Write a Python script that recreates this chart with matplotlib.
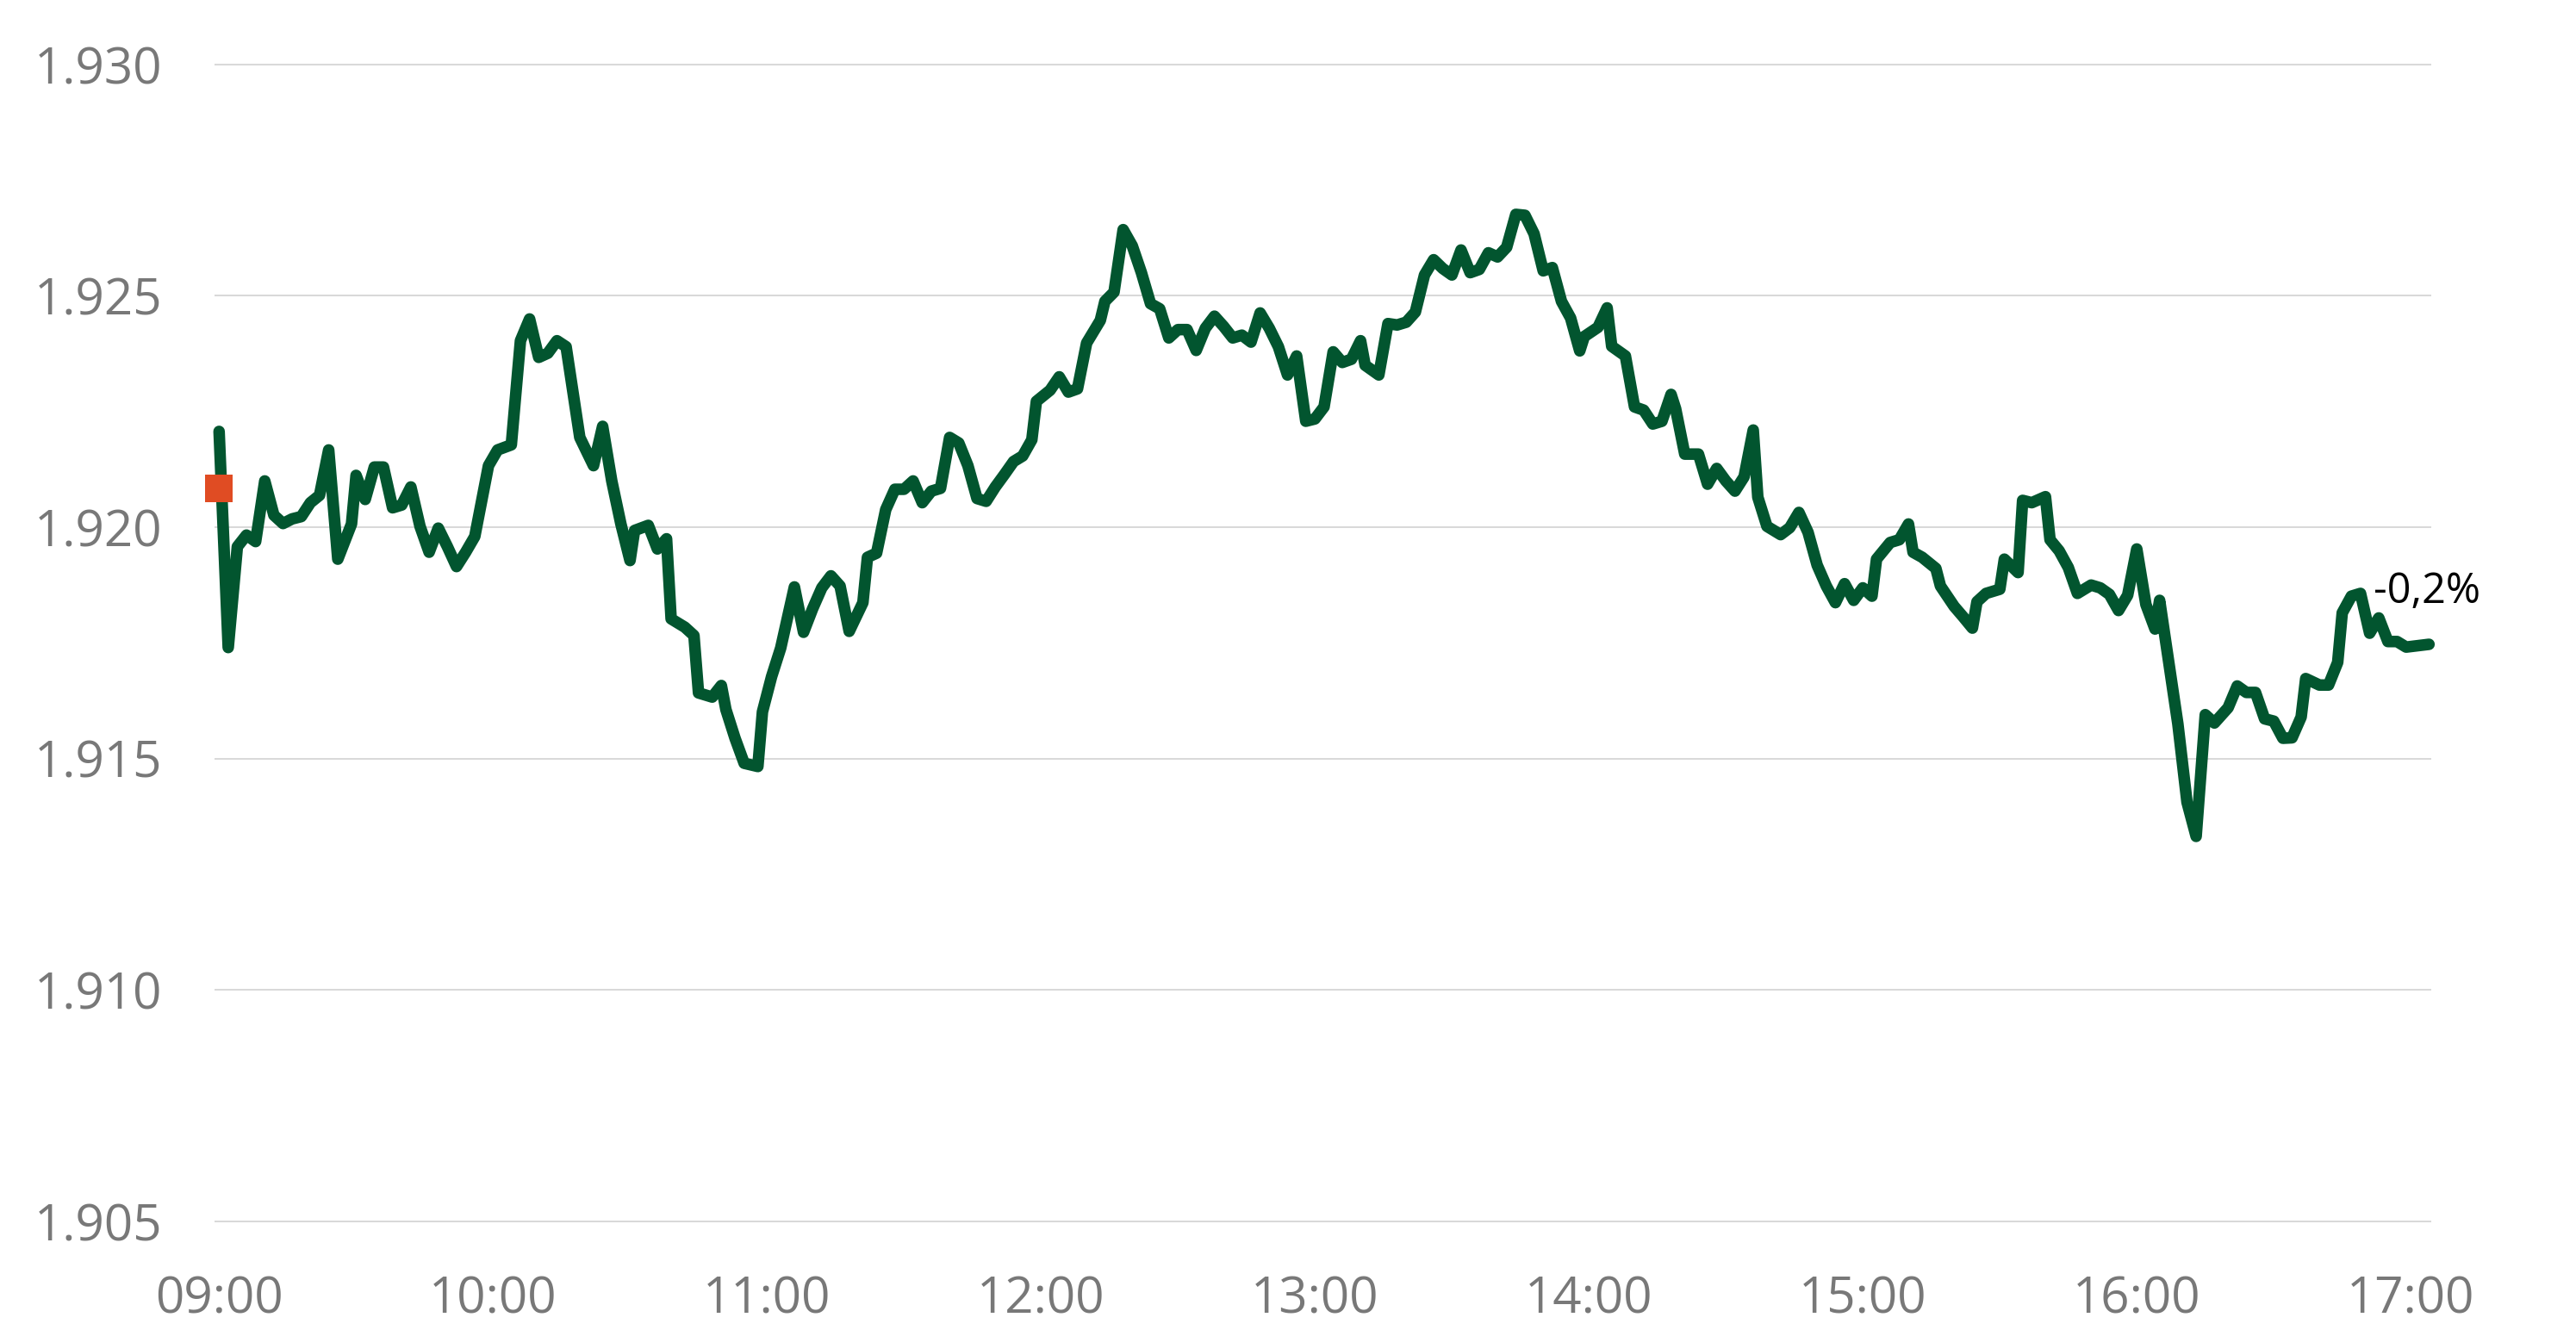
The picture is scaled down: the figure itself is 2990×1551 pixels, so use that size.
import matplotlib
matplotlib.use("Agg")
import matplotlib.pyplot as plt
import matplotlib.ticker as mticker

plt.rcParams["font.family"] = ["Open Sans", "DejaVu Sans"]

# intraday prices, minutes after 09:00
minutes = [
    0, 2, 4, 6, 8, 10, 12, 14, 16, 18, 20, 22, 24, 26, 29, 30, 32, 34, 36, 38,
    40, 42, 44, 46, 48, 50, 52, 54, 56, 59, 61, 64, 66, 68, 70, 72, 74, 76, 79, 82,
    84, 86, 88, 90, 91, 94, 96, 98, 99, 102, 104, 105, 108, 110, 111, 113, 115, 118, 119, 121,
    123, 126, 128, 130, 132, 134, 136, 138, 141, 142, 144, 146, 148, 150, 152, 154, 156, 158, 160, 162,
    164, 166, 168, 170, 172, 174, 176, 178, 179, 182, 184, 186, 188, 190, 193, 194, 196, 198, 200, 202,
    204, 206, 208, 210, 212, 214, 216, 218, 220, 222, 224, 226, 228, 230, 232, 234, 236, 238, 240, 242,
    244, 246, 248, 250, 251, 254, 256, 258, 260, 262, 264, 266, 268, 270, 272, 274, 276, 278, 280, 282,
    284, 286, 288, 290, 292, 294, 296, 298, 299, 302, 304, 305, 308, 310, 312, 314, 316, 318, 319, 321,
    324, 326, 328, 330, 332, 334, 336, 337, 339, 342, 344, 346, 348, 350, 352, 354, 356, 358, 360, 362,
    363, 366, 368, 370, 371, 373, 376, 377, 380, 382, 384, 385, 387, 390, 391, 394, 395, 397, 400, 401,
    403, 405, 407, 410, 412, 414, 416, 418, 420, 422, 424, 425, 429, 431, 433, 435, 437, 440, 442, 444,
    446, 448, 450, 452, 454, 456, 457, 460, 462, 464, 465, 467, 469, 471, 473, 475, 477, 479, 484,
]
prices = [
    1.92207, 1.91740, 1.91958, 1.91983, 1.91969, 1.92100, 1.92026, 1.92008, 1.92018, 1.92023,
    1.92053, 1.92069, 1.92167, 1.91931, 1.92007, 1.92112, 1.92060, 1.92130, 1.92130, 1.92042,
    1.92048, 1.92087, 1.92002, 1.91946, 1.91998, 1.91958, 1.91915, 1.91946, 1.91980, 1.92133,
    1.92167, 1.92178, 1.92403, 1.92450, 1.92367, 1.92376, 1.92403, 1.92390, 1.92194, 1.92133,
    1.92218, 1.92100, 1.92007, 1.91928, 1.91993, 1.92004, 1.91953, 1.91975, 1.91802, 1.91784,
    1.91766, 1.91642, 1.91633, 1.91658, 1.91606, 1.91544, 1.91490, 1.91483, 1.91601, 1.91677,
    1.91739, 1.91871, 1.91773, 1.91824, 1.91869, 1.91895, 1.91873, 1.91775, 1.91837, 1.91935,
    1.91944, 1.92038, 1.92082, 1.92082, 1.92100, 1.92053, 1.92078, 1.92084, 1.92194, 1.92182,
    1.92133, 1.92062, 1.92056, 1.92087, 1.92114, 1.92142, 1.92154, 1.92189, 1.92272, 1.92296,
    1.92325, 1.92292, 1.92299, 1.92398, 1.92447, 1.92488, 1.92508, 1.92643, 1.92608, 1.92550,
    1.92483, 1.92472, 1.92409, 1.92427, 1.92427, 1.92382, 1.92430, 1.92456, 1.92434, 1.92409,
    1.92415, 1.92400, 1.92463, 1.92430, 1.92390, 1.92329, 1.92370, 1.92229, 1.92234, 1.92260,
    1.92379, 1.92356, 1.92363, 1.92403, 1.92350, 1.92329, 1.92440, 1.92437, 1.92443, 1.92465,
    1.92545, 1.92578, 1.92559, 1.92545, 1.92599, 1.92550, 1.92557, 1.92593, 1.92584, 1.92605,
    1.92676, 1.92674, 1.92634, 1.92554, 1.92561, 1.92488, 1.92452, 1.92381, 1.92412, 1.92432,
    1.92474, 1.92391, 1.92370, 1.92260, 1.92253, 1.92223, 1.92229, 1.92287, 1.92256, 1.92158,
    1.92158, 1.92093, 1.92127, 1.92100, 1.92078, 1.92109, 1.92210, 1.92065, 1.92002, 1.91984,
    1.91999, 1.92032, 1.91989, 1.91918, 1.91873, 1.91837, 1.91878, 1.91842, 1.91869, 1.91851,
    1.91931, 1.91967, 1.91973, 1.92007, 1.91946, 1.91935, 1.91911, 1.91873, 1.91829, 1.91806,
    1.91782, 1.91839, 1.91857, 1.91866, 1.91931, 1.91902, 1.92058, 1.92053, 1.92066, 1.91973,
    1.91949, 1.91913, 1.91857, 1.91875, 1.91869, 1.91855, 1.91820, 1.91853, 1.91953, 1.91833,
    1.91780, 1.91842, 1.91575, 1.91406, 1.91332, 1.91595, 1.91577, 1.91610, 1.91657, 1.91643,
    1.91643, 1.91586, 1.91581, 1.91544, 1.91545, 1.91590, 1.91673, 1.91659, 1.91659, 1.91708,
    1.91815, 1.91851, 1.91857, 1.91771, 1.91804, 1.91753, 1.91753, 1.91741, 1.91747,
]
prev_close = 1.92084
y_ticks = [1.905, 1.910, 1.915, 1.920, 1.925, 1.930]
x_ticks = [0, 60, 120, 180, 240, 300, 360, 420, 480]

GREEN = "#02552f"
RED = "#e04c23"
GREY = "#787878"

fig = plt.figure(figsize=(29.9, 15.51), dpi=100)
ax = fig.add_axes([0.08328, 0.08229, 0.86054, 0.87296])

ax.plot(minutes, prices, color=GREEN, linewidth=9.7, solid_joinstyle="round",
        solid_capstyle="round", zorder=3, clip_on=False)
ax.plot([minutes[0]], [prev_close], marker="s", markersize=23.5, color=RED,
        markeredgewidth=0, linestyle="none", zorder=4, clip_on=False)

# change vs previous close, shown at the last point
change = (prices[-1] / prev_close - 1) * 100
label = ("%.1f%%" % change).replace(".", ",")
ax.annotate(label, (minutes[-1], prices[-1]), xytext=(-2, 34.6), textcoords="offset points",
            ha="center", va="baseline", fontsize=35, color="black", zorder=5)

ax.set_xlim(-1, 484.5)
ax.set_ylim(1.9049, 1.9301)
ax.set_yticks(y_ticks)
ax.set_xticks(x_ticks)
ax.yaxis.set_major_formatter(mticker.FuncFormatter(lambda v, pos: "%.3f" % v))
ax.xaxis.set_major_formatter(mticker.FuncFormatter(
    lambda m, pos: "%02d:%02d" % (9 + int(m) // 60, int(m) % 60)))

ax.grid(axis="y", color="#d9d9d9", linewidth=1.45)
ax.grid(axis="x", visible=False)
ax.set_axisbelow(True)
for s in ax.spines.values():
    s.set_visible(False)

ax.tick_params(axis="both", length=0, labelsize=42, labelcolor=GREY)
ax.tick_params(axis="y", pad=150.5)
ax.tick_params(axis="x", pad=72.7)
for t in ax.get_yticklabels():
    t.set_horizontalalignment("left")
    t.set_verticalalignment("center_baseline")
for t in ax.get_xticklabels():
    t.set_verticalalignment("baseline")

fig.savefig("out.png", dpi=100, facecolor="white")
